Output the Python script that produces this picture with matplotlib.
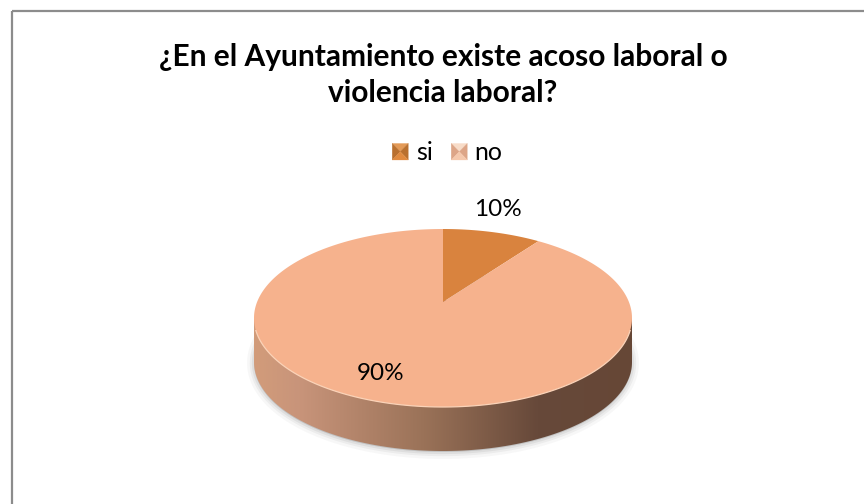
import numpy as np
import matplotlib
matplotlib.use("Agg")
import matplotlib.pyplot as plt
from matplotlib.patches import Circle, Rectangle, Polygon
from matplotlib.path import Path
from matplotlib.transforms import Transform, Affine2D
from matplotlib.colors import LinearSegmentedColormap
from matplotlib.legend_handler import HandlerBase

categories = ["si", "no"]
values = [10, 90]
value_labels = ["10%", "90%"]
colors = ["#D9833E", "#F6B28D"]
title = "¿En el Ayuntamiento existe acoso laboral o\nviolencia laboral?"

plt.rcParams["font.family"] = ["Lato", "DejaVu Sans"]


class Perspective(Transform):
    """Tilted disc: unit circle to the pixel-space top face of the pie."""
    input_dims = output_dims = 2

    def __init__(self, cx, cy, rx, ry, pivot):
        super().__init__()
        self.cx, self.cy, self.rx, self.ry = cx, cy, rx, ry
        self.b = cy - pivot
        self.c = self.b / ry

    def transform_non_affine(self, xy):
        xy = np.asarray(xy, float)
        u, v = xy[:, 0], xy[:, 1]
        d = 1 + self.c * v
        k = np.sqrt(1 - self.c ** 2)
        x = self.cx + self.rx * k * u / d
        y = self.cy - (self.ry * v + self.b) / d
        return np.column_stack([x, y])

    def transform_path_non_affine(self, path):
        # Flatten at high resolution so curved edges stay smooth.
        big = Path(path.vertices * 2000, path.codes)
        polys = big.to_polygons(closed_only=True)
        v = np.vstack(polys) / 2000
        return Path(self.transform_non_affine(v), closed=True)


class BevelHandler(HandlerBase):
    def __init__(self, shades):
        super().__init__()
        self.shades = shades

    def create_artists(self, legend, orig, xd, yd, w, h, fontsize, trans):
        cx, cy = w / 2 - xd, h / 2 - yd
        x0, x1, y0, y1 = -xd, w - xd, -yd, h - yd
        tris = [[(x0, y1), (x1, y1), (cx, cy)], [(x0, y0), (x0, y1), (cx, cy)],
                [(x1, y0), (x1, y1), (cx, cy)], [(x0, y0), (x1, y0), (cx, cy)]]
        return [Polygon(t, closed=True, facecolor=c, edgecolor=c, linewidth=0.2,
                        transform=trans) for t, c in zip(tris, self.shades)]


fig = plt.figure(figsize=(8.64, 5.04), dpi=100)
ax = fig.add_axes([0, 0, 1, 1])

persp = Perspective(443, 318, 189, 89, 302)
top_tf = persp + ax.transData


def shifted(dy):
    return persp + Affine2D().translate(0, dy) + ax.transData


wedges, _ = ax.pie(values, colors=colors, startangle=90, counterclock=False,
                   wedgeprops=dict(linewidth=0))
for w in wedges:
    w.set_transform(top_tf)
    w.set_zorder(5)

# soft shadow
for grow, a in [(5, 0.04), (3, 0.06), (1.5, 0.08)]:
    ax.add_patch(Circle((0, 0), 1, facecolor="#404040", edgecolor="#404040",
                        linewidth=grow * 2, alpha=a, zorder=2,
                        transform=shifted(45)))

# side wall with horizontal gradient, clipped to lower disc plus linking band
side_cmap = LinearSegmentedColormap.from_list(
    "side", [(0, "#D29C7A"), (0.12, "#C8947A"), (0.45, "#9A7258"),
             (0.75, "#67493A"), (1, "#664736")])
grad = np.linspace(0, 1, 256).reshape(1, -1)
bottom = ax.add_patch(Circle((0, 0), 1, facecolor="none", linewidth=0,
                             transform=shifted(44)))
band = ax.add_patch(Rectangle((254, 318), 378, 44, facecolor="none", linewidth=0))
for clip in (bottom, band):
    im = ax.imshow(grad, extent=(254, 632, 460, 300), cmap=side_cmap,
                   aspect="auto", zorder=3, interpolation="bilinear")
    im.set_clip_path(clip)

ax.set_aspect("auto")
ax.set_xlim(0, 864)
ax.set_ylim(504, 0)
ax.axis("off")

# highlight along the front rim of the top face
rim = ax.add_patch(Circle((0, 0), 1, facecolor="none", edgecolor="#FBD3B8",
                          linewidth=0.9, zorder=6, transform=top_tf))
rim.set_clip_path(Rectangle((254, 330), 378, 90, transform=ax.transData))

# chart frame
ax.add_patch(Rectangle((12, 11), 860, 500, facecolor="none",
                       edgecolor="#8C8C8C", linewidth=1.6, zorder=1, clip_on=False))

ax.text(443, 75, title, ha="center", va="center", fontsize=21.5,
        fontweight="bold", color="black", linespacing=1.35, zorder=8)

# data labels
ax.text(498, 209.5, value_labels[0], ha="center", va="center", fontsize=17.5, zorder=8)
ax.text(381, 373.5, value_labels[1], ha="center", va="center", fontsize=17.5, zorder=8)

# legend
handles = [Rectangle((0, 0), 1, 1, facecolor=c, edgecolor="none") for c in colors]
leg = ax.legend(handles, categories, loc="center", bbox_to_anchor=(447.5 / 864, 1 - 153 / 504),
                ncol=2, frameon=False, fontsize=18, handlelength=0.64, handleheight=0.64,
                handletextpad=0.3, columnspacing=0.75, borderpad=0,
                handler_map={handles[0]: BevelHandler(["#E39A57", "#B9702F", "#B9702F", "#E08A3F"]),
                             handles[1]: BevelHandler(["#F8DCC8", "#DDA587", "#DDA587", "#F5C8AC"])})
leg.set_zorder(8)

fig.savefig("out.png", dpi=100, facecolor="white")
